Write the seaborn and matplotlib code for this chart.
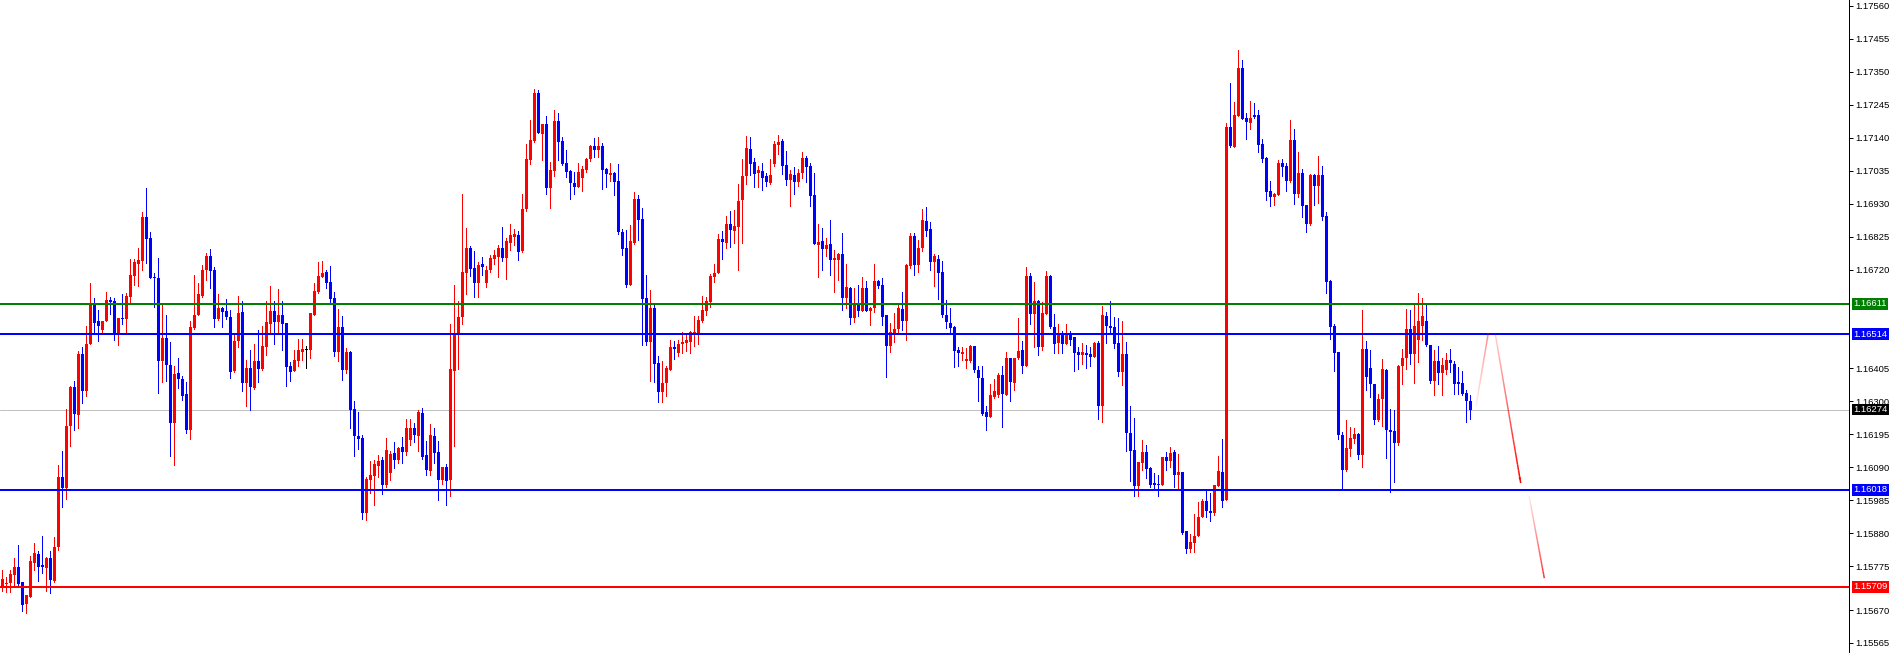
import numpy as np
import pandas as pd
import matplotlib
matplotlib.use("Agg")
import matplotlib.pyplot as plt
import matplotlib.transforms as mtransforms
from matplotlib.collections import LineCollection
import seaborn as sns

sns.set_theme(style="white")
plt.rcParams['font.family'] = ['Liberation Sans', 'DejaVu Sans']

# candle prices in points (1e-5), one value per bar, oldest first
open_pts = [
    115712, 115718, 115722, 115747, 115773, 115725, 115654, 115678, 115785, 115813,
    115778, 115771, 115800, 115728, 115837, 116058, 116025, 116221, 116345, 116256,
    116452, 116334, 116484, 116614, 116556, 116529, 116557, 116623, 116619, 116511,
    116565, 116562, 116633, 116699, 116737, 116748, 116887, 116820, 116697, 116693,
    116429, 116503, 116415, 116230, 116390, 116371, 116323, 116208, 116534, 116576,
    116635, 116718, 116763, 116718, 116561, 116597, 116588, 116570, 116398, 116492,
    116585, 116359, 116406, 116344, 116428, 116402, 116474, 116547, 116588, 116553,
    116575, 116549, 116412, 116398, 116428, 116457, 116463, 116463, 116575, 116648,
    116696, 116712, 116680, 116629, 116457, 116538, 116400, 116457, 116275, 116190,
    116183, 115945, 116049, 116062, 116094, 116113, 116033, 116071, 116136, 116113,
    116156, 116140, 116178, 116214, 116189, 116263, 116129, 116079, 116189, 116139,
    116049, 116090, 116049, 116398, 116514, 116568, 116710, 116790, 116724, 116676,
    116737, 116676, 116720, 116752, 116761, 116788, 116758, 116805, 116824, 116830,
    116779, 116912, 117070, 117129, 117282, 117151, 117183, 116980, 117035, 117193,
    117129, 117058, 117035, 116995, 116984, 117012, 117038, 117071, 117113, 117100,
    117113, 117040, 117021, 117026, 117002, 116838, 116788, 116670, 116803, 116944,
    116880, 116628, 116490, 116599, 116421, 116331, 116358, 116400, 116474, 116455,
    116482, 116487, 116490, 116511, 116516, 116557, 116588, 116616, 116697, 116709,
    116817, 116805, 116866, 116842, 116856, 116941, 117018, 117103, 117061, 117028,
    117033, 117018, 116996, 117055, 117116, 117129, 117052, 117005, 117021, 117000,
    117028, 117074, 117049, 116957, 116798, 116811, 116785, 116801, 116750, 116750,
    116769, 116630, 116662, 116566, 116615, 116588, 116661, 116588, 116598, 116683,
    116670, 116575, 116476, 116517, 116530, 116594, 116557, 116731, 116826, 116734,
    116790, 116875, 116848, 116744, 116752, 116713, 116575, 116551, 116538, 116463,
    116450, 116429, 116429, 116477, 116400, 116373, 116267, 116251, 116314, 116322,
    116384, 116322, 116437, 116359, 116437, 116463, 116413, 116699, 116578, 116620,
    116474, 116580, 116699, 116537, 116486, 116517, 116482, 116517, 116505, 116457,
    116447, 116454, 116450, 116441, 116486, 116285, 116572, 116540, 116537, 116486,
    116393, 116450, 116199, 116145, 116030, 116103, 116138, 116087, 116040, 116036,
    116033, 116122, 116110, 116138, 116065, 116075, 115887, 115829, 115849, 115871,
    115931, 115982, 115951, 115944, 116030, 116075, 115986, 117175, 117111, 117210,
    117362, 117203, 117187, 117212, 117212, 117119, 117074, 116970, 116951, 116957,
    117060, 117049, 117002, 117132, 116962, 117026, 116925, 116864, 117021, 116986,
    117021, 116890, 116684, 116541, 116458, 116192, 116081, 116150, 116180, 116195,
    116129, 116466, 116405, 116354, 116242, 116309, 116400, 116208, 116205, 116166,
    116412, 116437, 116530, 116450, 116495, 116540, 116556, 116479, 116365, 116428,
    116389, 116400, 116431, 116418, 116359, 116359, 116327, 116302,
]
close_pts = [
    115733, 115721, 115750, 115773, 115720, 115651, 115683, 115791, 115816, 115773,
    115772, 115800, 115731, 115837, 116058, 116025, 116223, 116347, 116259, 116450,
    116334, 116482, 116610, 116550, 116541, 116557, 116623, 116617, 116511, 116565,
    116562, 116635, 116702, 116744, 116750, 116887, 116816, 116694, 116693, 116429,
    116503, 116415, 116230, 116387, 116370, 116318, 116208, 116536, 116576, 116641,
    116718, 116763, 116716, 116562, 116597, 116585, 116570, 116395, 116492, 116581,
    116359, 116406, 116347, 116428, 116402, 116476, 116553, 116588, 116553, 116575,
    116547, 116410, 116395, 116431, 116463, 116466, 116463, 116581, 116651, 116699,
    116708, 116677, 116626, 116457, 116538, 116400, 116457, 116272, 116189, 116180,
    115945, 116052, 116065, 116100, 116110, 116033, 116145, 116132, 116113, 116152,
    116140, 116214, 116214, 116192, 116267, 116122, 116081, 116192, 116136, 116049,
    116090, 116047, 116402, 116514, 116568, 116711, 116788, 116721, 116677, 116734,
    116729, 116718, 116756, 116765, 116788, 116758, 116811, 116830, 116833, 116777,
    116912, 117071, 117132, 117282, 117154, 117183, 116980, 117037, 117193, 117127,
    117055, 117032, 116995, 116984, 117032, 117039, 117071, 117114, 117100, 117113,
    117037, 117024, 117026, 117000, 116838, 116785, 116670, 116811, 116944, 116877,
    116626, 116490, 116599, 116418, 116331, 116358, 116405, 116472, 116467, 116484,
    116489, 116495, 116522, 116522, 116559, 116591, 116620, 116700, 116709, 116817,
    116808, 116866, 116845, 116858, 116938, 117018, 117106, 117055, 117024, 117037,
    117012, 117000, 117021, 117119, 117125, 117050, 117005, 117024, 117000, 117028,
    117074, 117047, 116955, 116801, 116808, 116785, 116798, 116750, 116757, 116771,
    116630, 116664, 116566, 116615, 116588, 116661, 116588, 116598, 116683, 116668,
    116570, 116476, 116521, 116530, 116598, 116557, 116734, 116826, 116734, 116790,
    116877, 116843, 116744, 116764, 116709, 116575, 116553, 116534, 116461, 116453,
    116456, 116434, 116477, 116400, 116375, 116259, 116251, 116320, 116333, 116384,
    116323, 116437, 116363, 116437, 116460, 116413, 116699, 116578, 116620, 116474,
    116583, 116699, 116536, 116482, 116517, 116482, 116517, 116495, 116454, 116447,
    116457, 116447, 116441, 116486, 116285, 116575, 116540, 116533, 116482, 116393,
    116450, 116199, 116142, 116030, 116107, 116138, 116084, 116033, 116033, 116033,
    116122, 116110, 116135, 116065, 116075, 115880, 115829, 115852, 115871, 115931,
    115982, 115951, 115944, 116033, 116078, 115982, 117175, 117113, 117212, 117362,
    117199, 117191, 117203, 117206, 117116, 117071, 116968, 116951, 116960, 117060,
    117047, 117002, 117132, 116962, 117026, 116922, 116864, 117021, 116986, 117021,
    116888, 116681, 116537, 116455, 116192, 116081, 116152, 116182, 116195, 116129,
    116466, 116378, 116354, 116242, 116309, 116402, 116208, 116203, 116166, 116412,
    116439, 116530, 116450, 116541, 116556, 116572, 116479, 116365, 116428, 116389,
    116415, 116431, 116421, 116357, 116357, 116325, 116302, 116274,
]
high_pts = [
    115763, 115742, 115764, 115801, 115842, 115725, 115683, 115807, 115848, 115823,
    115871, 115805, 115823, 115867, 116097, 116142, 116275, 116349, 116365, 116460,
    116472, 116540, 116676, 116629, 116591, 116557, 116648, 116633, 116628, 116565,
    116641, 116645, 116753, 116753, 116788, 116903, 116979, 116839, 116708, 116757,
    116609, 116575, 116489, 116412, 116437, 116382, 116362, 116556, 116702, 116676,
    116734, 116773, 116785, 116727, 116641, 116602, 116625, 116591, 116518, 116636,
    116620, 116431, 116463, 116482, 116527, 116540, 116620, 116667, 116620, 116657,
    116620, 116549, 116425, 116465, 116498, 116498, 116476, 116581, 116676, 116744,
    116747, 116718, 116731, 116648, 116594, 116572, 116470, 116460, 116302, 116267,
    116193, 116060, 116111, 116113, 116129, 116122, 116184, 116143, 116172, 116156,
    116187, 116243, 116243, 116230, 116272, 116280, 116174, 116227, 116215, 116175,
    116090, 116100, 116548, 116670, 116621, 116962, 116851, 116795, 116779, 116745,
    116761, 116731, 116766, 116782, 116798, 116856, 116819, 116866, 116850, 116842,
    116962, 117119, 117196, 117294, 117291, 117183, 117209, 117061, 117228, 117219,
    117143, 117100, 117038, 117032, 117058, 117049, 117074, 117116, 117138, 117141,
    117124, 117045, 117058, 117032, 117055, 116848, 116845, 116861, 116968, 116957,
    116915, 116702, 116654, 116609, 116444, 116428, 116413, 116495, 116492, 116497,
    116522, 116519, 116524, 116572, 116572, 116635, 116633, 116705, 116737, 116833,
    116842, 116890, 116906, 116909, 116992, 117071, 117145, 117141, 117074, 117049,
    117058, 117028, 117071, 117129, 117148, 117135, 117097, 117037, 117047, 117040,
    117093, 117081, 117058, 117026, 116865, 116853, 116821, 116877, 116782, 116773,
    116837, 116739, 116665, 116660, 116670, 116697, 116683, 116601, 116737, 116686,
    116693, 116575, 116550, 116582, 116612, 116647, 116737, 116835, 116837, 116814,
    116912, 116920, 116872, 116771, 116766, 116747, 116623, 116596, 116540, 116474,
    116474, 116471, 116481, 116477, 116413, 116413, 116285, 116355, 116370, 116391,
    116413, 116456, 116439, 116437, 116567, 116493, 116729, 116709, 116681, 116623,
    116617, 116716, 116702, 116578, 116546, 116524, 116546, 116524, 116505, 116473,
    116486, 116479, 116473, 116489, 116492, 116604, 116584, 116620, 116568, 116565,
    116556, 116489, 116285, 116247, 116107, 116177, 116161, 116090, 116072, 116065,
    116122, 116138, 116154, 116145, 116132, 116075, 115887, 115877, 115941, 115979,
    115989, 116014, 116008, 116033, 116126, 116180, 117187, 117314, 117255, 117419,
    117387, 117218, 117257, 117251, 117228, 117135, 117077, 117002, 116964, 117068,
    117071, 117060, 117196, 117169, 117095, 117039, 116925, 117024, 117024, 117081,
    117049, 116904, 116686, 116548, 116458, 116203, 116240, 116217, 116215, 116198,
    116591, 116493, 116463, 116357, 116325, 116434, 116402, 116275, 116272, 116415,
    116466, 116593, 116591, 116610, 116644, 116630, 116610, 116481, 116463, 116476,
    116437, 116455, 116466, 116428, 116410, 116396, 116336, 116320,
]
low_pts = [
    115697, 115694, 115694, 115715, 115710, 115633, 115626, 115678, 115763, 115729,
    115753, 115697, 115690, 115725, 115826, 115965, 115988, 116158, 116208, 116215,
    116294, 116317, 116482, 116514, 116493, 116514, 116557, 116580, 116495, 116479,
    116546, 116516, 116618, 116670, 116667, 116718, 116741, 116694, 116602, 116327,
    116363, 116366, 116127, 116099, 116342, 116306, 116199, 116180, 116530, 116576,
    116633, 116686, 116662, 116538, 116559, 116538, 116562, 116374, 116395, 116474,
    116334, 116286, 116272, 116339, 116363, 116400, 116447, 116518, 116483, 116521,
    116463, 116350, 116366, 116398, 116413, 116431, 116406, 116439, 116575, 116645,
    116696, 116662, 116617, 116444, 116428, 116368, 116390, 116215, 116127, 116147,
    115924, 115922, 116007, 115970, 116060, 116004, 116028, 116051, 116087, 116104,
    116104, 116129, 116161, 116172, 116143, 116115, 116067, 116065, 116104, 115987,
    116038, 115970, 115998, 116158, 116402, 116548, 116641, 116699, 116631, 116631,
    116702, 116665, 116713, 116737, 116697, 116747, 116689, 116782, 116798, 116750,
    116775, 116906, 117055, 117126, 117154, 117068, 116960, 116916, 117018, 117068,
    117052, 117016, 116945, 116962, 116982, 116971, 117032, 117066, 117077, 117077,
    116976, 116984, 117002, 116957, 116834, 116766, 116665, 116670, 116801, 116814,
    116479, 116479, 116366, 116363, 116297, 116299, 116318, 116400, 116434, 116444,
    116455, 116460, 116455, 116476, 116482, 116553, 116575, 116602, 116679, 116708,
    116753, 116789, 116792, 116805, 116718, 116805, 116992, 117021, 116984, 116984,
    116973, 116986, 116992, 117049, 117087, 117024, 116989, 116922, 116960, 116986,
    117013, 117000, 116922, 116801, 116697, 116718, 116764, 116702, 116649, 116688,
    116591, 116596, 116548, 116553, 116572, 116588, 116588, 116543, 116585, 116660,
    116543, 116378, 116458, 116489, 116521, 116529, 116497, 116724, 116702, 116713,
    116780, 116826, 116718, 116667, 116626, 116568, 116533, 116518, 116410, 116413,
    116431, 116407, 116426, 116394, 116301, 116256, 116208, 116251, 116311, 116314,
    116219, 116320, 116302, 116336, 116434, 116391, 116413, 116546, 116472, 116447,
    116463, 116580, 116533, 116454, 116454, 116454, 116482, 116479, 116396, 116403,
    116419, 116406, 116412, 116441, 116243, 116234, 116486, 116517, 116470, 116381,
    116352, 116142, 116046, 115998, 115998, 116081, 116056, 116027, 116017, 115998,
    116033, 116081, 116091, 116027, 116017, 115877, 115817, 115820, 115820, 115871,
    115931, 115931, 115919, 115938, 116030, 115963, 115986, 117111, 117109, 117210,
    117199, 117135, 117167, 117204, 117095, 117063, 116941, 116922, 116925, 116957,
    117019, 116970, 116999, 116928, 116951, 116888, 116840, 116861, 116925, 116932,
    116877, 116644, 116500, 116398, 116179, 116017, 116078, 116126, 116169, 116118,
    116090, 116336, 116314, 116227, 116238, 116222, 116120, 116010, 116044, 116161,
    116357, 116402, 116419, 116360, 116424, 116495, 116476, 116360, 116322, 116357,
    116322, 116387, 116394, 116325, 116325, 116322, 116235, 116243,
]

# horizontal levels drawn on the chart
level_prices = [1.16611, 1.16514, 1.16274, 1.16018, 1.15709]
level_labels = ["1.16611", "1.16514", "1.16274", "1.16018", "1.15709"]
level_colors = ["#008000", "#0000ff", "#c0c0c0", "#0000ff", "#ff0000"]
level_boxes = ["#008000", "#0000ff", "#000000", "#0000ff", "#ff0000"]
level_px = [2, 2, 1, 2, 2]

# price scale labels (the two lowest sit a little lower, as on the terminal)
tick_labels = ["1.17560", "1.17455", "1.17350", "1.17245", "1.17140", "1.17035",
               "1.16930", "1.16825", "1.16720", "1.16405", "1.16300", "1.16195",
               "1.16090", "1.15985", "1.15880", "1.15775", "1.15670", "1.15565"]
tick_pos = [1.17560, 1.17455, 1.17350, 1.17245, 1.17140, 1.17035,
            1.16930, 1.16825, 1.16720, 1.16405, 1.16300, 1.16195,
            1.16090, 1.15985, 1.15880, 1.15775, 1.15635, 1.15531]

# forecast arrow legs: (bar, price) start -> end, alpha at start/end
arrow_legs = [((368.4, 1.16283), (371.5, 1.16518), 0.05, 0.45),
              ((373.2, 1.16518), (379.6, 1.16040), 0.15, 1.0),
              ((381.7, 1.15999), (385.5, 1.15737), 0.05, 0.8)]

df = pd.DataFrame({"open": open_pts, "high": high_pts,
                   "low": low_pts, "close": close_pts}) / 1e5
df["bar"] = np.arange(len(df))
df["high"] = df[["high", "open", "close"]].max(axis=1)
df["low"] = df[["low", "open", "close"]].min(axis=1)
df["color"] = np.where(df.close > df.open, "#ff0000",
                       np.where(df.close < df.open, "#0000ff", "#000000"))

W, H = 1891, 653
fig = plt.figure(figsize=(W / 100, H / 100), dpi=100)
fig.patch.set_facecolor("white")
ax = fig.add_axes([0, 0, 1849 / W, 1])
ax.set_facecolor("white")

ax.set_xlim(-0.575, 461.675)
ax.set_ylim(1.154987, 1.175785)

px = 0.72  # one pixel in points

# levels
for p, c, w in zip(level_prices, level_colors, level_px):
    ax.axhline(p, color=c, lw=w * px, zorder=3 if c != "#c0c0c0" else 0.5)

# candles
ax.vlines(df.bar, df.low, df.high, colors=df.color, linewidth=px,
          antialiased=False, zorder=2)
body_lo = df[["open", "close"]].min(axis=1)
body_h = np.maximum((df.open - df.close).abs(), 3.3e-5)
ax.bar(df.bar, body_h, bottom=body_lo, width=0.7, color=df.color,
       linewidth=0, antialiased=False, snap=True, zorder=2)

# forecast arrow with fading legs
for (x0, y0), (x1, y1), a0, a1 in arrow_legs:
    t = np.linspace(0, 1, 25)
    xs = x0 + (x1 - x0) * t
    ys = y0 + (y1 - y0) * t
    segs = np.stack([np.column_stack([xs[:-1], ys[:-1]]),
                     np.column_stack([xs[1:], ys[1:]])], axis=1)
    alphas = a0 + (a1 - a0) * t[1:]
    cols = [(1, 0, 0, a) for a in alphas]
    ax.add_collection(LineCollection(segs, colors=cols, linewidths=1.5 * px, zorder=4))
(x0, y0), (x1, y1), _, _ = arrow_legs[1]
ax.annotate("", xy=(x1, y1), xytext=(x1 - (x1 - x0) * 0.08, y1 - (y1 - y0) * 0.08),
            arrowprops=dict(arrowstyle="-|>", color="#ff0000", lw=0, mutation_scale=5),
            zorder=4)

# price axis on the right
for s in ["top", "left", "bottom"]:
    ax.spines[s].set_visible(False)
ax.spines["right"].set_visible(True)
ax.spines["right"].set_color("black")
ax.spines["right"].set_linewidth(px)
ax.set_xticks([])
ax.yaxis.tick_right()
ax.set_yticks(tick_pos)
ax.set_yticklabels(tick_labels)
ax.tick_params(axis="y", direction="out", length=3, width=px, pad=1.5,
               labelsize=6.8, colors="black", right=True, left=False)
ax.grid(False)

trans = mtransforms.blended_transform_factory(ax.transAxes, ax.transData)
for p, lab, bg in zip(level_prices, level_labels, level_boxes):
    ax.text(1 + 4 / 1849, p, lab, transform=trans, ha="left", va="center",
            fontsize=6.8, color="white", clip_on=False, zorder=6,
            bbox=dict(boxstyle="square,pad=0.15", fc=bg, ec="none"))

fig.savefig("out.png", dpi=100, facecolor="white")
